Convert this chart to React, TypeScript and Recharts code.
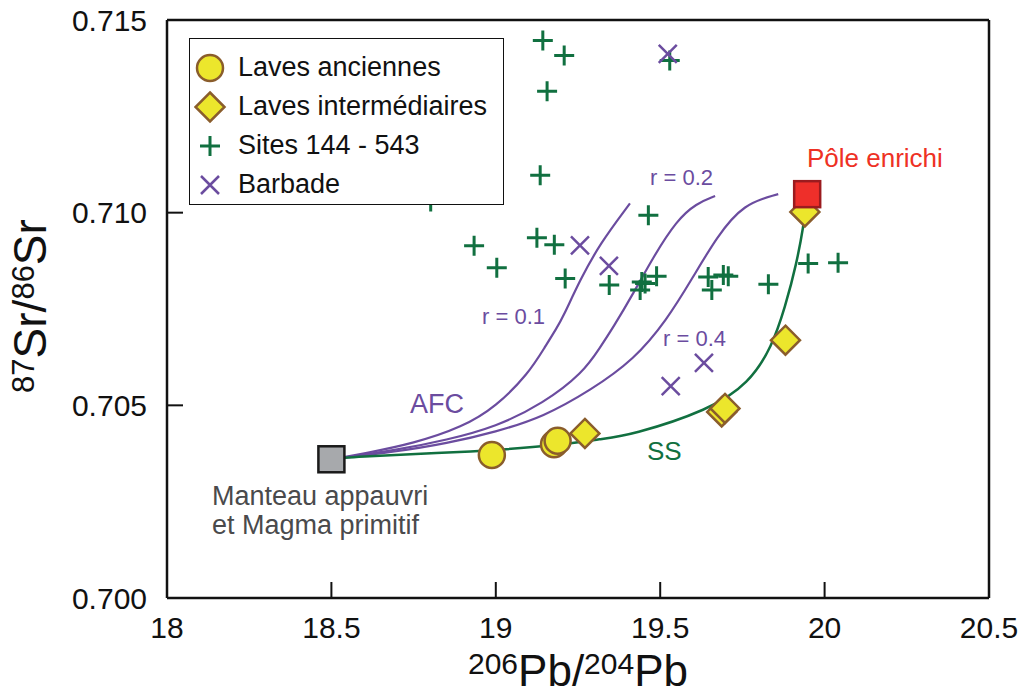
import React from "react";
import { ComposedChart, Line, Scatter, XAxis, YAxis, Legend } from "recharts";

const GREEN = "#117040";
const PURPLE = "#6b4c9f";
const YELLOW = "#ece62c";
const BROWN = "#8a5d2c";
const FONT = "'Liberation Sans', Arial, sans-serif";

const xTicks = [18, 18.5, 19, 19.5, 20, 20.5];
const yTicks = [0.7, 0.705, 0.71, 0.715];

// Sites 144 - 543
const sitesX = [19.143, 19.208, 19.156, 19.135, 19.529, 18.802, 18.934, 19.003, 19.125, 19.178, 19.211, 19.345,
  19.464, 19.444, 19.439, 19.454, 19.489, 19.646, 19.657, 19.692, 19.707, 19.829, 19.95, 20.041];
const sitesY = [0.71447, 0.71408, 0.71315, 0.71097, 0.71395, 0.71029, 0.70914, 0.70857, 0.70935, 0.70917, 0.70829, 0.70812,
  0.70993, 0.7082, 0.70799, 0.70816, 0.70835, 0.70833, 0.70799, 0.70838, 0.70835, 0.70814, 0.70868, 0.7087];

// Barbade
const barbX = [19.523, 19.256, 19.344, 19.633, 19.532];
const barbY = [0.71412, 0.70915, 0.70862, 0.7061, 0.7055];

// laves anciennes / intermédiaires
const ancX = [18.988, 19.177, 19.188];
const ancY = [0.70371, 0.70399, 0.70408];
const intX = [19.271, 19.687, 19.697, 19.881, 19.94];
const intY = [0.70427, 0.70483, 0.70492, 0.70669, 0.71002];

// end members
const manteauX = [18.5];
const manteauY = [0.7036];
const poleX = [19.947];
const poleY = [0.71048];

// SS mixing curve
const ssX = [18.5, 18.54, 18.95, 19.2, 19.32, 19.41, 19.65, 19.77, 19.84, 19.88, 19.915, 19.937, 19.94];
const ssY = [0.7036, 0.70366, 0.7038, 0.70397, 0.70413, 0.70422, 0.70488, 0.70557, 0.70652, 0.70755, 0.70868, 0.70972, 0.71002];

// AFC curves (r = 0.1, 0.2, 0.4)
const afc1X = [18.5, 18.6, 18.75, 18.9, 19.0, 19.1, 19.15, 19.185, 19.205, 19.256, 19.317, 19.408];
const afc1Y = [0.7036, 0.70375, 0.70401, 0.70444, 0.70496, 0.70583, 0.70652, 0.707, 0.7073, 0.70825, 0.7092, 0.71024];
const afc2X = [18.5, 18.7, 18.85, 19.0, 19.145, 19.266, 19.317, 19.357, 19.418, 19.479, 19.55, 19.61, 19.667];
const afc2Y = [0.7036, 0.70384, 0.7041, 0.70444, 0.70505, 0.70585, 0.7065, 0.70702, 0.7079, 0.70885, 0.7098, 0.71024, 0.71043];
const afc3X = [18.5, 18.7, 18.85, 19.0, 19.145, 19.29, 19.42, 19.52, 19.6, 19.672, 19.753, 19.859];
const afc3Y = [0.7036, 0.7038, 0.70401, 0.70431, 0.7047, 0.7054, 0.70618, 0.70721, 0.70833, 0.70937, 0.71023, 0.71048];

const legendNames = ["Laves anciennes", "Laves intermédiaires", "Sites 144 - 543", "Barbade"];

const zip = (xs: number[], ys: number[]) => xs.map((x, i) => ({ x, y: ys[i] }));

const circleShape = (p: any) => (
  <circle cx={p.cx} cy={p.cy} r={13} fill={YELLOW} stroke={BROWN} strokeWidth={2.5} />
);
const diamondShape = (p: any) => {
  const s = 14.5;
  return (
    <polygon
      points={`${p.cx},${p.cy - s} ${p.cx + s},${p.cy} ${p.cx},${p.cy + s} ${p.cx - s},${p.cy}`}
      fill={YELLOW} stroke={BROWN} strokeWidth={2.5} strokeLinejoin="miter"
    />
  );
};
const plusShape = (p: any) => (
  <path d={`M${p.cx - 10},${p.cy}H${p.cx + 10}M${p.cx},${p.cy - 10}V${p.cy + 10}`} stroke={GREEN} strokeWidth={3} fill="none" />
);
const crossShape = (p: any) => (
  <path d={`M${p.cx - 9},${p.cy - 9}L${p.cx + 9},${p.cy + 9}M${p.cx + 9},${p.cy - 9}L${p.cx - 9},${p.cy + 9}`} stroke={PURPLE} strokeWidth={2.5} fill="none" />
);
const greySquare = (p: any) => (
  <rect x={p.cx - 13} y={p.cy - 13} width={26} height={26} fill="#a7a9ac" stroke="#1a1a1a" strokeWidth={2.5} />
);
const redSquare = (p: any) => (
  <rect x={p.cx - 13} y={p.cy - 13} width={26} height={26} fill="#ee2f2a" stroke="#9b1b1f" strokeWidth={2.5} />
);

const legendShapes = [circleShape, diamondShape, plusShape, crossShape];

function LegendBox() {
  return (
    <div style={{
      width: 315, height: 167, boxSizing: "border-box", border: "1.5px solid #111",
      background: "#fff", paddingTop: 9, fontFamily: FONT, fontSize: 27, color: "#111",
    }}>
      {legendNames.map((n, i) => (
        <div key={n} style={{ height: 39, display: "flex", alignItems: "center" }}>
          <svg width={44} height={34} style={{ marginLeft: 4, marginRight: 0 }}>
            {legendShapes[i]({ cx: 16, cy: 17 })}
          </svg>
          <span style={{ lineHeight: "39px" }}>{n}</span>
        </div>
      ))}
    </div>
  );
}

const axisLine = { stroke: "#111", strokeWidth: 2.5 };
const tickLine = { stroke: "#111", strokeWidth: 2 };

export default function App() {
  return (
    <div style={{ position: "absolute", left: 0, top: 0, width: 1021, height: 699, background: "#fff", fontFamily: FONT }}>
      <ComposedChart width={1021} height={699} margin={{ top: 19, right: 31, bottom: 0, left: 0 }}>
        <XAxis type="number" dataKey="x" domain={[18, 20.5]} ticks={xTicks} allowDataOverflow
          height={101} tickSize={-16} tickMargin={35} axisLine={axisLine} tickLine={tickLine}
          tick={{ fontSize: 30, fill: "#111" }} />
        <XAxis xAxisId="top" orientation="top" type="number" dataKey="x" domain={[18, 20.5]} ticks={xTicks}
          allowDataOverflow height={1} tickSize={-16} tick={false} axisLine={axisLine} tickLine={tickLine} />
        <YAxis type="number" dataKey="y" domain={[0.7, 0.715]} ticks={yTicks} allowDataOverflow
          width={167} tickSize={-16} tickMargin={36} axisLine={axisLine} tickLine={tickLine}
          tick={{ fontSize: 30, fill: "#111" }} tickFormatter={(v: number) => v.toFixed(3)} />
        <YAxis yAxisId="right" orientation="right" type="number" dataKey="y" domain={[0.7, 0.715]} ticks={yTicks}
          allowDataOverflow width={1} tickSize={-16} tick={false} axisLine={axisLine} tickLine={tickLine} />

        <Line data={zip(afc1X, afc1Y)} dataKey="y" type="basis" stroke={PURPLE} strokeWidth={2.2} dot={false} isAnimationActive={false} legendType="none" />
        <Line data={zip(afc2X, afc2Y)} dataKey="y" type="basis" stroke={PURPLE} strokeWidth={2.2} dot={false} isAnimationActive={false} legendType="none" />
        <Line data={zip(afc3X, afc3Y)} dataKey="y" type="basis" stroke={PURPLE} strokeWidth={2.2} dot={false} isAnimationActive={false} legendType="none" />
        <Line data={zip(ssX, ssY)} dataKey="y" type="basis" stroke={GREEN} strokeWidth={2.5} dot={false} isAnimationActive={false} legendType="none" />

        <Scatter name="Sites 144 - 543" data={zip(sitesX, sitesY)} shape={plusShape} isAnimationActive={false} />
        <Scatter name="Barbade" data={zip(barbX, barbY)} shape={crossShape} isAnimationActive={false} />
        <Scatter name="Laves anciennes" data={zip(ancX, ancY)} shape={circleShape} isAnimationActive={false} />
        <Scatter name="Laves intermédiaires" data={zip(intX, intY)} shape={diamondShape} isAnimationActive={false} />
        <Scatter name="Manteau" data={zip(manteauX, manteauY)} shape={greySquare} isAnimationActive={false} legendType="none" />
        <Scatter name="Pôle enrichi" data={zip(poleX, poleY)} shape={redSquare} isAnimationActive={false} legendType="none" />

        <Legend layout="vertical" verticalAlign="middle" align="center" content={() => <LegendBox />}
          wrapperStyle={{ left: 189, top: 38, width: 315, height: 167 }} />
      </ComposedChart>

      <svg width={1021} height={699} style={{ position: "absolute", left: 0, top: 0, pointerEvents: "none" }} fontFamily={FONT}>
        <text x={46} y={306} transform="rotate(-90, 46, 306)" textAnchor="middle" fontSize={46} fill="#111">
          <tspan fontSize={31} dy={-12}>87</tspan>
          <tspan dy={12}>Sr/</tspan>
          <tspan fontSize={31} dy={-12}>86</tspan>
          <tspan dy={12}>Sr</tspan>
        </text>
        <text x={578} y={686} textAnchor="middle" fontSize={44} fill="#111">
          <tspan fontSize={30} dy={-12}>206</tspan>
          <tspan dy={12}>Pb/</tspan>
          <tspan fontSize={30} dy={-12}>204</tspan>
          <tspan dy={12}>Pb</tspan>
        </text>
        <text x={807} y={167} fontSize={26} fill="#ee3124">Pôle enrichi</text>
        <text x={650} y={185} fontSize={22} fill={PURPLE}>r = 0.2</text>
        <text x={482} y={324} fontSize={22} fill={PURPLE}>r = 0.1</text>
        <text x={663} y={346} fontSize={22} fill={PURPLE}>r = 0.4</text>
        <text x={410} y={413} fontSize={27} fill={PURPLE}>AFC</text>
        <text x={647} y={460} fontSize={26} fill={GREEN}>SS</text>
        <text x={212} y={505} fontSize={27} fill="#4a4a4c">Manteau appauvri</text>
        <text x={212} y={534} fontSize={27} fill="#4a4a4c">et Magma primitif</text>
      </svg>
    </div>
  );
}
